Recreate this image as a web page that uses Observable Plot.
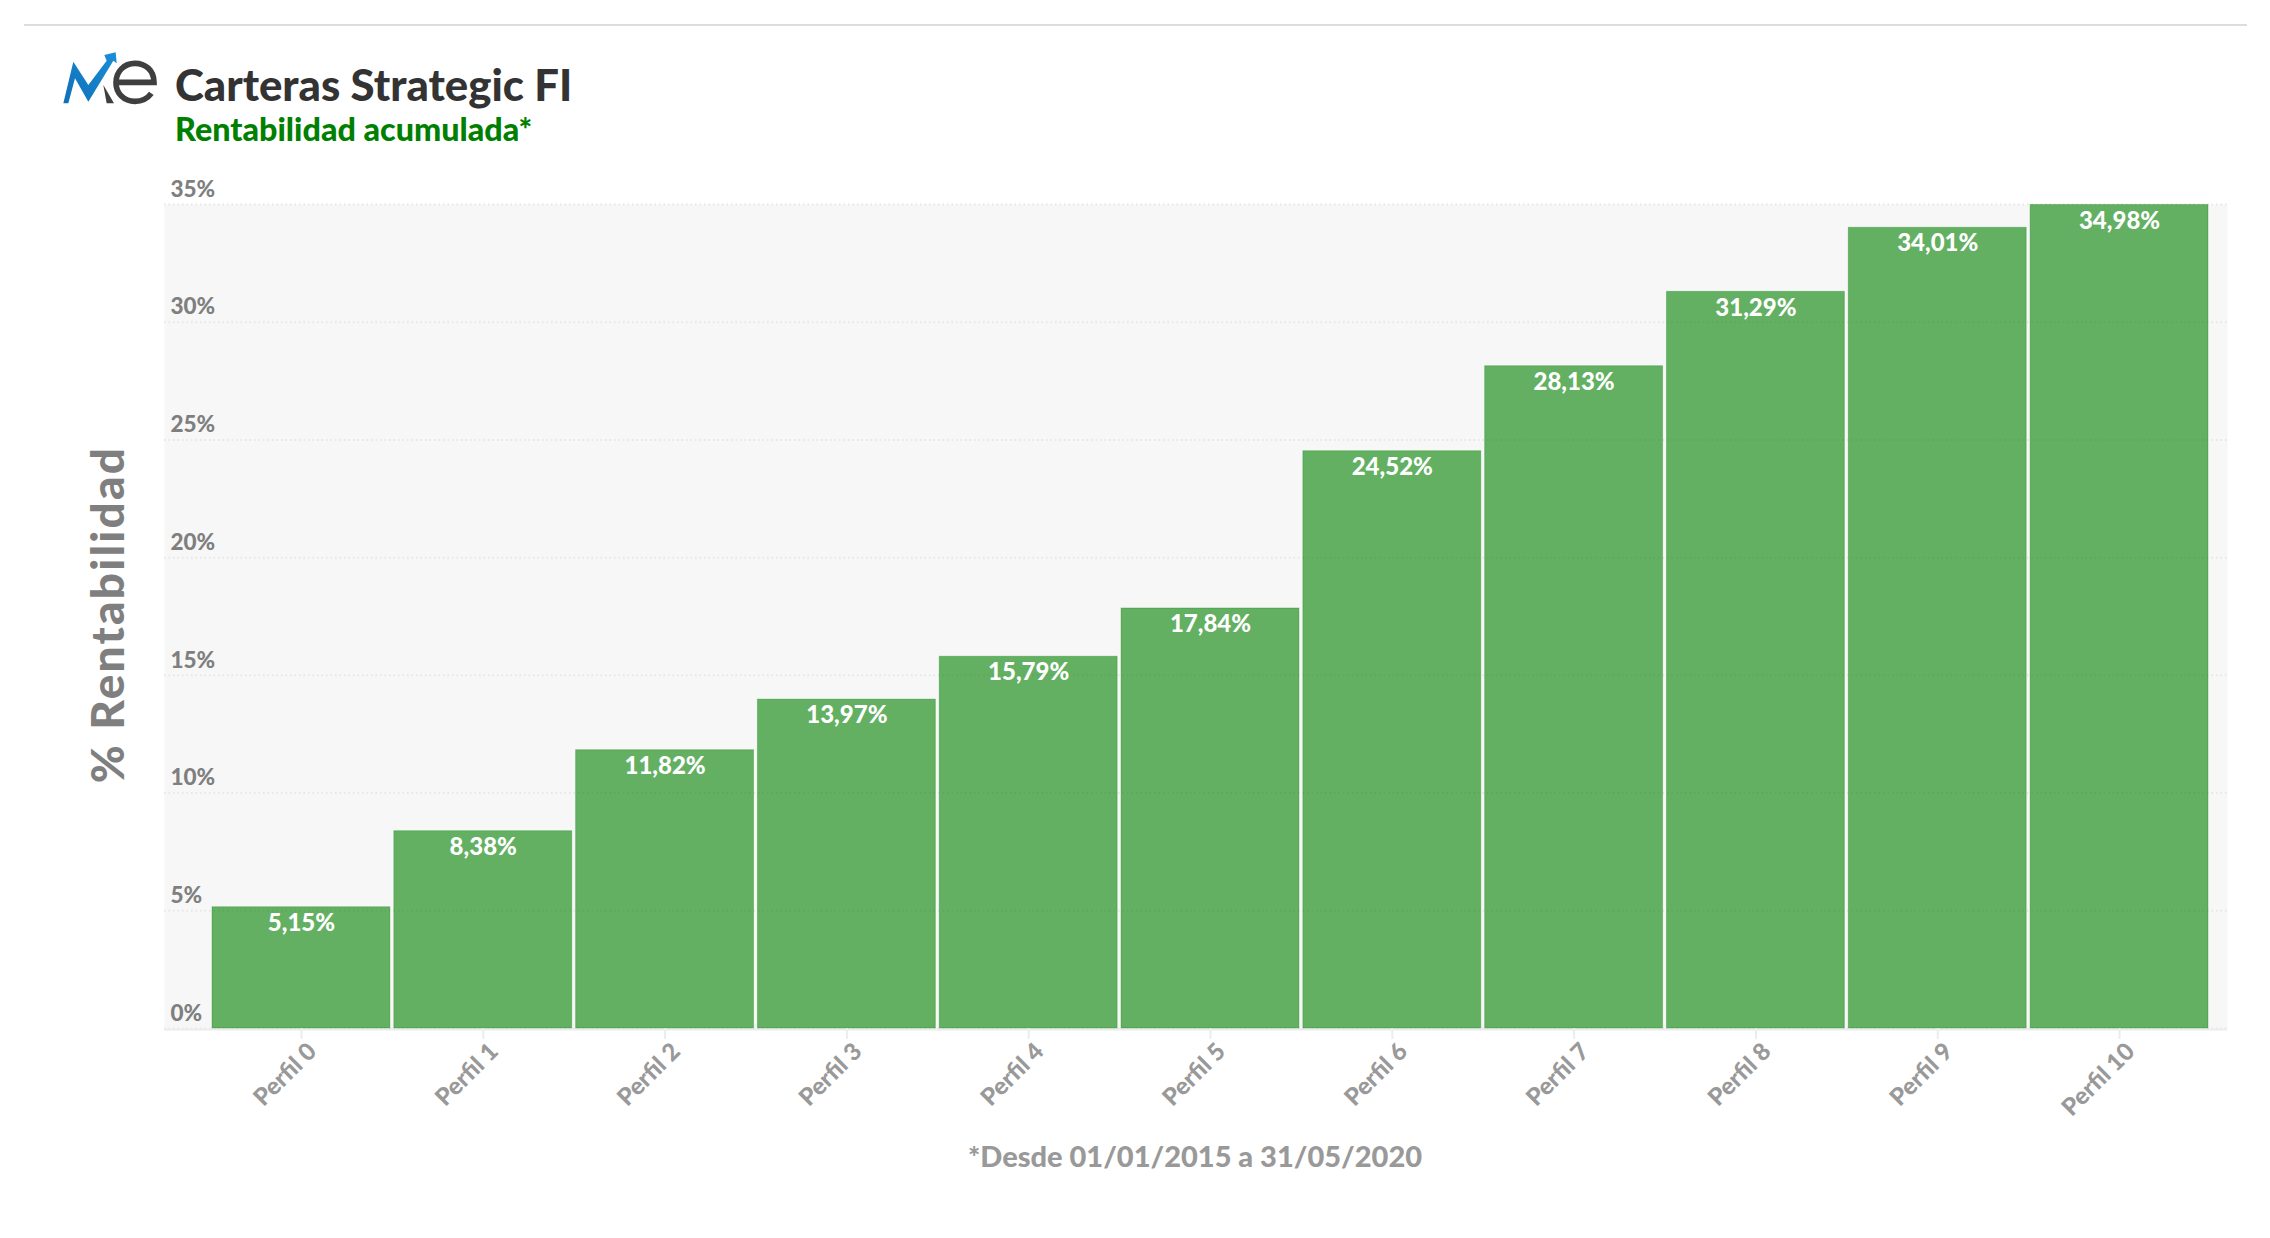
<!DOCTYPE html>
<html lang="es">
<head>
<meta charset="utf-8">
<title>Carteras Strategic FI</title>
<script src="https://cdn.jsdelivr.net/npm/d3@7"></script>
<script src="https://cdn.jsdelivr.net/npm/@observablehq/plot@0.6"></script>
<style>
  html,body{margin:0;padding:0;background:#fff;}
  body{width:2270px;height:1238px;overflow:hidden;font-family:Lato,"Noto Sans",sans-serif;}
  #header{position:relative;height:180px;}
  #rule{position:absolute;left:24px;width:2223px;top:24px;height:2px;background:#ddd;}
  #logo{position:absolute;left:50px;top:40px;}
  #title{position:absolute;left:175px;top:59px;font-size:43.7px;line-height:50px;font-weight:900;color:#333;white-space:nowrap;}
  #subtitle{position:absolute;left:175px;top:110px;font-size:32.3px;line-height:38px;font-weight:900;color:#008000;white-space:nowrap;}
  #chart svg{display:block;}
  #caption{position:absolute;left:0;top:1137px;width:2390px;text-align:center;font-size:29px;line-height:38px;font-weight:900;color:#999;white-space:nowrap;}
  .ytitle text{letter-spacing:2.2px;}
</style>
</head>
<body>
<div id="header">
  <div id="rule"></div>
  <svg id="logo" width="130" height="80" viewBox="0 0 390 240">
    <defs><linearGradient id="b" x1="0" y1="1" x2="1" y2="0"><stop offset="0" stop-color="#0f6fb8"/><stop offset="1" stop-color="#1a8fd6"/></linearGradient></defs>
    <path fill="url(#b)" d="M40 190 70 65 115 135 170 62 163 45 197 37 200 70 190 62 115 185 75 115 55 190Z"/>
    <path fill="#3f3f3f" d="M160 135 192 190 170 190Z"/>
    <path fill="none" stroke="#3f3f3f" stroke-width="17" d="M198 127H312C312 90 285 70 255 70 222 70 198 95 198 128 198 160 222 184 255 184 275 184 292 176 304 160"/>
  </svg>
  <div id="title">Carteras Strategic FI</div>
  <div id="subtitle">Rentabilidad acumulada*</div>
</div>
<div id="chart"></div>
<div id="caption">*Desde 01/01/2015 a 31/05/2020</div>
<script>
const categories = ["Perfil 0","Perfil 1","Perfil 2","Perfil 3","Perfil 4","Perfil 5","Perfil 6","Perfil 7","Perfil 8","Perfil 9","Perfil 10"];
const values = [5.15,8.38,11.82,13.97,15.79,17.84,24.52,28.13,31.29,34.01,34.98];
const yTicks = [0,5,10,15,20,25,30,35];
const yTitle = ["% Rentabilidad"];

const rows = categories.map((c,i)=>({perfil:c, value:values[i], label:values[i].toFixed(2).replace(".",",")+"%"}));

const chart = Plot.plot({
  width:2270,
  height:950,
  marginLeft:164,
  marginRight:43,
  marginTop:24,
  marginBottom:102,
  style:{fontFamily:"Lato, 'Noto Sans', sans-serif",background:"#fff",overflow:"visible"},
  x:{domain:categories,range:[212,2208],paddingInner:0.0215,paddingOuter:0,round:false,label:null},
  y:{domain:[0,35],label:null},
  marks:[
    Plot.frame({fill:"#f7f7f7",stroke:null}),
    Plot.gridY(yTicks,{stroke:"#e6e6e6",strokeOpacity:1,strokeWidth:2,strokeDasharray:"1.5 3"}),
    Plot.ruleY([0],{stroke:"#ececec",strokeWidth:2,dy:1}),
    Plot.barY(rows,{x:"perfil",y:"value",fill:"#008000",fillOpacity:0.6,stroke:"#008000",strokeOpacity:0.3,strokeWidth:1}),
    Plot.axisX({anchor:"bottom",label:null,tickSize:11,tickFormat:()=>"",stroke:"#ececec",strokeWidth:2}),
    Plot.axisX({anchor:"bottom",label:null,tickSize:0,tickPadding:19,dx:11,dy:0,tickRotate:-45,fill:"#999",fontSize:24,fontWeight:900}),
    Plot.axisY(yTicks,{anchor:"left",label:null,tickSize:0,tickPadding:-6,textAnchor:"start",dy:-15,fill:"#7f7f7f",fontSize:22.5,fontWeight:900,tickFormat:d=>d+"%"}),
    Plot.text(rows,{x:"perfil",y:"value",text:"label",dy:16,fill:"#fff",fontSize:24,fontWeight:900}),
    Plot.text(yTitle,{text:d=>d,frameAnchor:"left",textAnchor:"middle",rotate:-90,dx:-55,dy:-2,fill:"#7f7f7f",fontSize:46,fontWeight:900,className:"ytitle"})
  ]
});
document.getElementById("chart").appendChild(chart);
</script>
</body>
</html>
